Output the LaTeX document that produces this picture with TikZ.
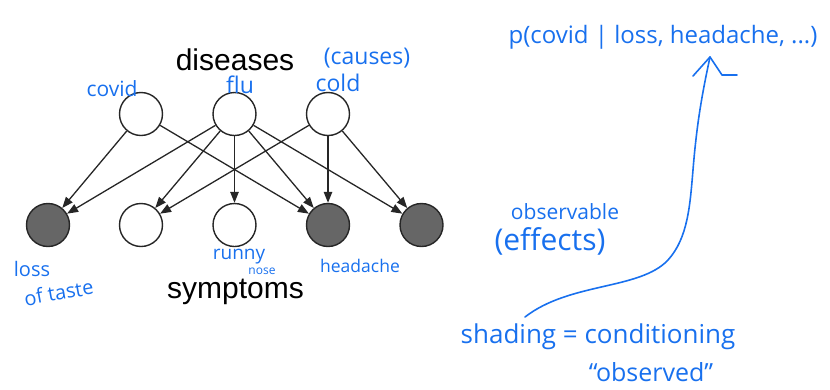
\documentclass[tikz,border=0pt]{standalone}
\usepackage{fontspec}
\setmainfont{Liberation Sans}
\newfontfamily\hand{Open Sans}
\usetikzlibrary{arrows.meta}
\definecolor{ink}{RGB}{24,112,238}
\definecolor{shade}{RGB}{102,102,102}
\tikzset{
  var/.style={circle, draw=black!85, line width=1.4pt, minimum size=43pt, inner sep=0pt, fill=white},
  obs/.style={var, fill=shade},
  dep/.style={draw=black!85, line width=1.3pt, -{Triangle[length=11pt,width=8.5pt]}},
  title/.style={font=\fontsize{30}{32}\selectfont, anchor=base, inner sep=0pt},
  note/.style={text=ink, anchor=base, inner sep=0pt},
  pen/.style={draw=ink, line width=1.6pt, line cap=round, line join=round}
}
\begin{document}
\begin{tikzpicture}[x=1pt,y=-1pt]
\useasboundingbox (0,0) rectangle (830,389);
% nodes
\node[var] (covid) at (141,114) {};
\node[var] (flu)   at (234.5,114) {};
\node[var] (cold)  at (328,114) {};
\node[obs] (loss)  at (48,225) {};
\node[var] (s2)    at (141,225) {};
\node[var] (runny) at (234.5,225) {};
\node[obs] (head)  at (328,225) {};
\node[obs] (s5)    at (421.5,225) {};
% edges
\draw[dep] (covid) -- (loss);
\draw[dep] (covid) -- (head);
\draw[dep] (flu) -- (loss);
\draw[dep] (flu) -- (s2);
\draw[dep] (flu) -- (runny);
\draw[dep] (flu) -- (head);
\draw[dep] (flu) -- (s5);
\draw[dep] (cold) -- (s2);
\draw[dep] (cold) -- (head);
\draw[dep] (cold) -- (s5);
% titles
\node[title] (diseases) at (235,70) {diseases};
\node[title] (symptoms) at (235.5,298) {symptoms};
% handwritten notes
\node[note, font=\hand\fontsize{21}{22}\selectfont] (tcovid) at (112,96) {covid};
\node[note, font=\hand\fontsize{23}{24}\selectfont] (tflu) at (240,93) {flu};
\node[note, font=\hand\fontsize{23}{24}\selectfont] (tcold) at (338,91) {cold};
\node[note, font=\hand\fontsize{23}{24}\selectfont] (tcauses) at (367,64) {(causes)};
\node[note, font=\hand\fontsize{20}{22}\selectfont] (tloss) at (32,276) {loss};
\node[note, font=\hand\fontsize{20}{22}\selectfont, rotate=10] (ttaste) at (60,300) {of taste};
\node[note, font=\hand\fontsize{19}{20}\selectfont] (trunny) at (239,259) {runny};
\node[note, font=\hand\fontsize{12}{13}\selectfont] (tnose) at (262,274) {nose};
\node[note, font=\hand\fontsize{17.5}{18}\selectfont] (thead) at (360,272) {headache};
\node[note, font=\hand\fontsize{24}{26}\selectfont] (tp) at (663,43) {p(covid | loss, headache, ...)};
\node[note, font=\hand\fontsize{21}{22}\selectfont] (tobs) at (565,219) {observable};
\node[note, font=\hand\fontsize{30}{32}\selectfont] (teff) at (550,250) {(effects)};
\node[note, font=\hand\fontsize{26}{28}\selectfont] (tshade) at (598,343) {shading = conditioning};
\node[note, font=\hand\fontsize{25}{26}\selectfont] (tobsd) at (651,381) {“observed”};
% blue arrow
\coordinate (start) at (525,317);
\coordinate (tip) at (710,57);
\draw[pen] (start) .. controls (570,282) and (640,290) .. (668,260)
  .. controls (688,238) and (690,205) .. (693,170)
  .. controls (697,120) and (703,90) .. (tip);
\draw[pen] (693,76) -- (tip) -- (722,75) -- (737,75);
\end{tikzpicture}
\end{document}
